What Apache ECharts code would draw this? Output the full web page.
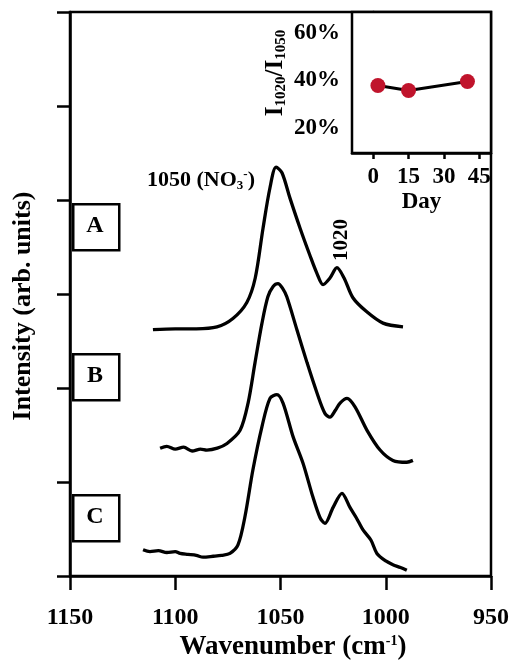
<!DOCTYPE html>
<html><head><meta charset="utf-8">
<script src="https://cdn.jsdelivr.net/npm/echarts@6/dist/echarts.min.js"></script>
<style>html,body{margin:0;padding:0;background:#fff}#c{width:514px;height:665px}</style>
</head><body><div id="c"></div>
<script>
// Main spectra (wavenumber cm^-1, intensity in arb. units, offset)
const wnA  = [1110.6,1100,1090,1080.2,1072.6,1066,1062,1058.3,1055,1052.1,1049.3,1045.5,1040.7,1036,1032.7,1029.8,1026.5,1023.2,1019.8,1015.6,1009,1001.3,991.8];
const intA = [2.62,2.63,2.63,2.65,2.74,2.91,3.17,3.70,4.13,4.35,4.29,4.02,3.70,3.41,3.22,3.10,3.17,3.28,3.17,2.96,2.81,2.69,2.65];
const wnB  = [1107.2,1104,1100,1096,1092,1088,1085,1080,1075.4,1069.2,1065.4,1062.1,1058.8,1056,1053.5,1051.2,1049,1047,1042.2,1037.4,1032.7,1028.9,1026.5,1024,1021.7,1018.4,1014.6,1008.9,1002.7,996.6,990,987.1];
const intB = [1.36,1.38,1.35,1.37,1.33,1.35,1.34,1.36,1.41,1.55,1.84,2.27,2.69,2.97,3.08,3.11,3.06,2.97,2.62,2.27,1.95,1.73,1.69,1.76,1.84,1.89,1.80,1.55,1.34,1.23,1.21,1.23];
const wnC  = [1115.3,1112,1108,1104,1100,1097.7,1094,1090,1086.8,1082,1078,1074,1070.2,1066.9,1063.1,1058.8,1055,1051.7,1048.8,1044,1039.3,1034.6,1031.2,1028.9,1025,1020.8,1017,1014,1010.8,1007,1004.2,1000,996.6,993,990];
const intC = [0.28,0.26,0.27,0.25,0.26,0.24,0.23,0.22,0.20,0.21,0.22,0.24,0.33,0.63,1.13,1.59,1.89,1.93,1.84,1.48,1.20,0.84,0.62,0.56,0.73,0.88,0.73,0.62,0.49,0.38,0.24,0.16,0.12,0.09,0.06];
const panelLabels = ['A','B','C'];
// Inset
const days  = [2,15,40];
const ratio = [37.9,35.8,39.6];
const insetXTicks = [0,15,30,45];
const insetYTicks = [20,40,60];

const FF = 'Liberation Serif';
const zip = (xs, ys) => xs.map((x,i)=>[x, ys[i]]);
const axisLineStyle = {color:'#000', width:2.5};

const chart = echarts.init(document.getElementById('c'), null, {renderer:'canvas'});

const lineSeries = (xs, ys) => ({
  type:'line', xAxisIndex:0, yAxisIndex:0, data: zip(xs, ys),
  showSymbol:false, smooth:0.3, lineStyle:{color:'#000', width:3.3}, z:3
});

const boxY = [203, 353, 494];
const graphic = [];
panelLabels.forEach((L,i)=>{
  graphic.push({type:'rect', left:72, top:boxY[i], shape:{width:46, height:46},
    style:{fill:'#fff', stroke:'#000', lineWidth:2.5}, z:10});
  graphic.push({type:'text', x:95, y:boxY[i]+23, z:11,
    style:{text:L, font:'bold 24px "Liberation Serif"', fill:'#000', align:'center', verticalAlign:'middle'}});
});
graphic.push({type:'text', x:23, y:306, rotation:Math.PI/2, z:11,
  style:{text:'Intensity (arb. units)', font:'bold 26px "Liberation Serif"', fill:'#000', align:'center', verticalAlign:'middle'}});
graphic.push({type:'text', x:293, y:648, z:11,
  style:{text:'{m|Wavenumber (cm}{s|-1}{m|)}', align:'center', verticalAlign:'middle',
    rich:{m:{fontFamily:FF, fontWeight:'bold', fontSize:27, lineHeight:28, verticalAlign:'top', fill:'#000'},
          s:{fontFamily:FF, fontWeight:'bold', fontSize:14, lineHeight:10, verticalAlign:'top', fill:'#000'}}}});
graphic.push({type:'text', x:147, y:180, z:11,
  style:{text:'{m|1050 (NO}{s|3}{p|-}{m|)}', align:'left', verticalAlign:'middle',
    rich:{m:{fontFamily:FF, fontWeight:'bold', fontSize:22, lineHeight:24, verticalAlign:'middle', fill:'#000'},
          s:{fontFamily:FF, fontWeight:'bold', fontSize:13, lineHeight:10, verticalAlign:'bottom', fill:'#000'},
          p:{fontFamily:FF, fontWeight:'bold', fontSize:13, lineHeight:10, verticalAlign:'top', fill:'#000'}}}});
graphic.push({type:'text', x:342, y:240, rotation:Math.PI/2, z:11,
  style:{text:'1020', font:'bold 21px "Liberation Serif"', fill:'#000', align:'center', verticalAlign:'middle'}});
graphic.push({type:'text', x:276, y:73, rotation:Math.PI/2, z:11,
  style:{text:'{m|I}{s|1020}{m|/I}{s|1050}', align:'center', verticalAlign:'middle',
    rich:{m:{fontFamily:FF, fontWeight:'bold', fontSize:25, lineHeight:25, verticalAlign:'bottom', fill:'#000'},
          s:{fontFamily:FF, fontWeight:'bold', fontSize:15, lineHeight:12, verticalAlign:'bottom', fill:'#000'}}}});

const option = {
  animation:false,
  backgroundColor:'#fff',
  grid:[
    {left:70, top:12, width:421, height:564, show:true, borderColor:'#000', borderWidth:2.5, backgroundColor:'transparent'},
    {left:352, top:12, width:139, height:141, show:true, borderColor:'#000', borderWidth:2.5, backgroundColor:'#fff', z:5}
  ],
  xAxis:[
    {type:'value', gridIndex:0, min:950, max:1150, interval:50, inverse:true,
     axisLine:{lineStyle:axisLineStyle}, axisTick:{inside:false, length:14, lineStyle:axisLineStyle},
     axisLabel:{margin:30, fontSize:24, fontWeight:'bold', fontFamily:FF, color:'#000', formatter:v=>String(v)},
     splitLine:{show:false}},
    {type:'value', gridIndex:1, min:-9, max:50,
     axisLine:{lineStyle:axisLineStyle},
     axisTick:{inside:false, length:6, lineStyle:axisLineStyle, customValues:insetXTicks},
     axisLabel:{margin:13, fontSize:23, fontWeight:'bold', fontFamily:FF, color:'#000', customValues:insetXTicks, formatter:v=>String(v)},
     splitLine:{show:false},
     name:'Day', nameLocation:'middle', nameGap:38,
     nameTextStyle:{fontSize:23, fontWeight:'bold', fontFamily:FF, color:'#000'}}
  ],
  yAxis:[
    {type:'value', gridIndex:0, min:0, max:6, interval:1,
     axisLine:{show:true, lineStyle:axisLineStyle}, axisTick:{show:true, inside:false, length:13, lineStyle:axisLineStyle},
     axisLabel:{show:false}, splitLine:{show:false}},
    {type:'value', gridIndex:1, min:9.5, max:68.8,
     axisLine:{show:true, lineStyle:axisLineStyle},
     axisTick:{show:true, inside:false, length:7, lineStyle:axisLineStyle, customValues:insetYTicks},
     axisLabel:{margin:12, fontSize:23, fontWeight:'bold', fontFamily:FF, color:'#000', customValues:insetYTicks, formatter:'{value}%'},
     splitLine:{show:false}}
  ],
  series:[
    lineSeries(wnA, intA),
    lineSeries(wnB, intB),
    lineSeries(wnC, intC),
    {type:'line', xAxisIndex:1, yAxisIndex:1, data:zip(days, ratio), z:6,
     symbol:'circle', symbolSize:15, showSymbol:true,
     lineStyle:{color:'#000', width:3}, itemStyle:{color:'#c0142c', borderWidth:0}}
  ],
  graphic: graphic
};
chart.setOption(option);
</script></body></html>
